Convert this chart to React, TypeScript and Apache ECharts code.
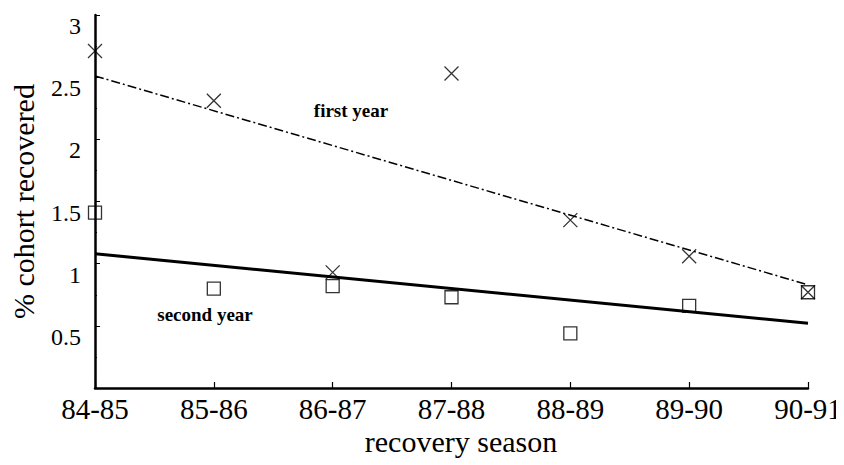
import React, { useEffect, useRef } from "react";
import * as echarts from "echarts";

const seasons = ["84-85", "85-86", "86-87", "87-88", "88-89", "89-90", "90-91"];
const firstYear = [2.71, 2.31, 0.93, 2.53, 1.35, 1.06, 0.77];
const secondYear = [1.41, 0.8, 0.82, 0.73, 0.44, 0.66, 0.77];
const firstYearTrend = [2.51, null, null, null, null, null, 0.83];
const secondYearTrend = [1.08, null, null, null, null, null, 0.52];

const FONT = "Liberation Serif";

export default function App() {
  const ref = useRef<HTMLDivElement>(null);
  useEffect(() => {
    if (!ref.current) return;
    const chart = echarts.init(ref.current, undefined, { renderer: "svg" });
    chart.setOption({
      animation: false,
      backgroundColor: "#fff",
      grid: { left: 87, right: 44, top: 7, bottom: 85, outerBoundsMode: "none", containLabel: false },
      xAxis: {
        type: "category",
        data: seasons,
        boundaryGap: false,
        axisLine: { lineStyle: { color: "#000", width: 2.5 } },
        axisTick: { inside: true, length: 6, lineStyle: { color: "#000", width: 1.2 } },
        axisLabel: { color: "#000", fontFamily: FONT, fontSize: 29, margin: 6 },
        splitLine: { show: false },
      },
      yAxis: {
        type: "value",
        min: 0,
        max: 3,
        interval: 0.5,
        axisLine: { show: true, lineStyle: { color: "#000", width: 2.5 } },
        axisTick: { show: true, inside: true, length: 5, lineStyle: { color: "#000", width: 1 } },
        minorTick: { show: true, splitNumber: 2, length: 2, lineStyle: { color: "#000" } },
        axisLabel: {
          color: "#000",
          fontFamily: FONT,
          fontSize: 24,
          margin: 14,
          verticalAlign: "top",
          lineHeight: 22,
          formatter: (v: number) => (v === 0 ? "" : String(v)),
        },
        splitLine: { show: false },
        name: "% cohort recovered",
        nameLocation: "middle",
        nameGap: 57,
        nameTextStyle: { color: "#000", fontFamily: FONT, fontSize: 30 },
      },
      graphic: [
        {
          type: "text",
          x: 453,
          y: 433,
          style: {
            text: "recovery season",
            font: `30px "${FONT}"`,
            fill: "#000",
            textAlign: "center",
            textVerticalAlign: "middle",
          },
        },
        {
          type: "text",
          x: 343,
          y: 102,
          style: {
            text: "first year",
            font: `bold 19px "${FONT}"`,
            fill: "#000",
            textAlign: "center",
            textVerticalAlign: "middle",
          },
        },
        {
          type: "text",
          x: 197,
          y: 306,
          style: {
            text: "second year",
            font: `bold 19px "${FONT}"`,
            fill: "#000",
            textAlign: "center",
            textVerticalAlign: "middle",
          },
        },
      ],
      series: [
        {
          type: "line",
          data: firstYearTrend,
          connectNulls: true,
          showSymbol: false,
          symbol: "none",
          lineStyle: { color: "#000", width: 1.5, type: [9, 3, 2, 3] },
          z: 2,
        },
        {
          type: "line",
          data: secondYearTrend,
          connectNulls: true,
          showSymbol: false,
          symbol: "none",
          lineStyle: { color: "#000", width: 3 },
          z: 2,
        },
        {
          type: "scatter",
          data: secondYear,
          symbol: "rect",
          symbolSize: 13,
          itemStyle: { color: "rgba(255,255,255,0)", borderColor: "#000", borderWidth: 1.3 },
          z: 3,
        },
        {
          type: "scatter",
          data: firstYear,
          symbol: "path://M0,0L10,10M10,0L0,10",
          symbolSize: 14,
          itemStyle: { color: "rgba(255,255,255,0)", borderColor: "#000", borderWidth: 1.3 },
          z: 4,
        },
      ],
    });
    return () => chart.dispose();
  }, []);
  return <div ref={ref} style={{ width: 844, height: 465 }} />;
}
